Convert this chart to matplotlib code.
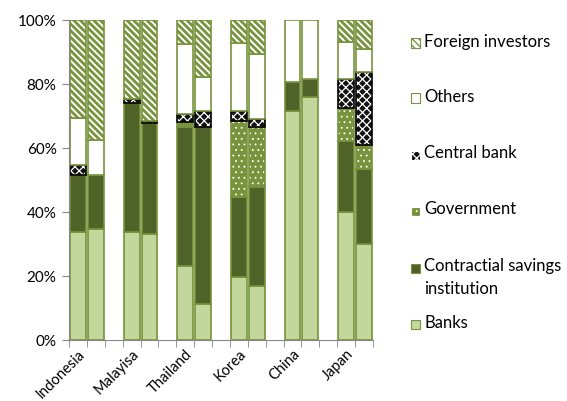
import numpy as np
import matplotlib
matplotlib.use('Agg')
from matplotlib import pyplot as plt
from matplotlib.ticker import FixedLocator, PercentFormatter
from matplotlib.patches import Rectangle

plt.rcParams['font.family'] = ['Lato', 'DejaVu Sans']

countries = ['Indonesia', 'Malayisa', 'Thailand', 'Korea', 'China', 'Japan']
series = ['Banks', 'Contractial savings\ninstitution', 'Government',
          'Central bank', 'Others', 'Foreign investors']

# cumulative tops (%) for each of the 12 bars, two per country
banks_top = [33.6, 34.8, 33.7, 33.1, 23.2, 11.2, 19.8, 17.0, 71.5, 75.8, 40.1, 30.1]
contr_top = [51.7, 51.6, 74.2, 67.8, 66.6, 66.6, 44.8, 47.8, 80.7, 81.5, 62.3, 53.4]
govt_top = [51.7, 51.6, 74.2, 67.8, 68.1, 66.6, 68.3, 66.6, 80.7, 81.5, 72.6, 61.0]
cb_top = [54.6, 51.6, 75.3, 68.3, 70.6, 71.7, 71.5, 69.2, 80.7, 81.5, 81.6, 83.9]
others_top = [69.3, 62.5, 75.3, 68.3, 92.6, 82.3, 92.9, 89.4, 100, 100, 93.2, 90.8]
foreign_top = [100] * 12

tops = np.array([banks_top, contr_top, govt_top, cb_top, others_top, foreign_top])
values = np.diff(np.vstack([np.zeros(12), tops]), axis=0)

pos = np.array([0, 1, 3, 4, 6, 7, 9, 10, 12, 13, 15, 16])
width = 0.89

green = '#77933C'
styles = [
    dict(face='#C3D69B', hatch=None, hcol=None, hlw=1, edge=green),
    dict(face='#4F6228', hatch=None, hcol=None, hlw=1, edge=green),
    dict(face=green, hatch='...', hcol='white', hlw=0.6, edge=green),
    dict(face='#111111', hatch='xxxx', hcol='white', hlw=0.9, edge='black'),
    dict(face='white', hatch=None, hcol=None, hlw=1, edge=green),
    dict(face='white', hatch='\\\\\\\\\\', hcol=green, hlw=2.0, edge=green),
]

fig = plt.figure(figsize=(5.67, 4.01), dpi=100)
ax = fig.add_axes([69 / 567, 61 / 401, 304 / 567, 320 / 401])

bottom = np.zeros(12)
for vals, name, st in zip(values, series, styles):
    mask = vals > 0.05
    plt.rcParams['hatch.linewidth'] = st['hlw']
    if st['hatch']:
        ax.bar(pos[mask], vals[mask], width, bottom=bottom[mask], color=st['face'],
               hatch=st['hatch'], edgecolor=st['hcol'], linewidth=0)
    else:
        ax.bar(pos[mask], vals[mask], width, bottom=bottom[mask], color=st['face'], linewidth=0)
    ax.bar(pos[mask], vals[mask], width, bottom=bottom[mask], fill=False,
           edgecolor=st['edge'], linewidth=1.2)
    bottom += vals

ax.set_xlim(-0.5, 16.5)
ax.set_ylim(0, 100)
ax.yaxis.set_major_locator(FixedLocator([0, 20, 40, 60, 80, 100]))
ax.yaxis.set_major_formatter(PercentFormatter(decimals=0))
ax.set_xticks(pos[::2])
ax.set_xticklabels(countries, rotation=45, ha='right', rotation_mode='anchor')
ax.xaxis.set_minor_locator(FixedLocator(np.arange(-0.5, 17, 1)))
ax.tick_params(axis='x', which='major', length=0, pad=5, labelsize=10.5)
ax.tick_params(axis='x', which='minor', length=5, color='#868686')
ax.tick_params(axis='y', length=5, color='#868686', labelsize=11, pad=4)
for s in ['top', 'right']:
    ax.spines[s].set_visible(False)
for s in ['left', 'bottom']:
    ax.spines[s].set_color('#868686')

# legend drawn at the right, top entry first
leg_y = [324, 268, 211, 155, 98, 43]
for name, st, yp in zip(series, styles, leg_y):
    plt.rcParams['hatch.linewidth'] = min(st['hlw'], 1.0)
    fy = 1 - yp / 401
    fig.add_artist(Rectangle((411 / 567, fy - 4.5 / 401), 9 / 567, 9 / 401,
                             transform=fig.transFigure, facecolor=st['face'],
                             hatch=st['hatch'], edgecolor=st['hcol'] if st['hatch'] else st['edge'],
                             linewidth=0.8))
    fig.text(424 / 567, fy + 9.5 / 401, name, fontsize=12, va='top', ha='left',
             linespacing=1.5)

fig.savefig('out.png', dpi=100)
